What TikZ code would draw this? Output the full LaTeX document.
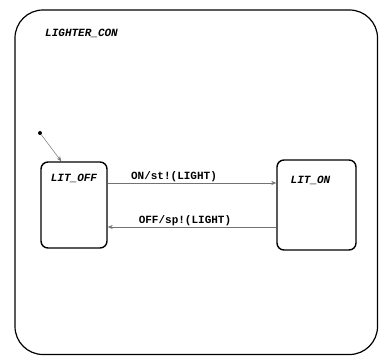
\documentclass[tikz,border=0pt]{standalone}
\usepackage{fontspec}
\setmonofont{Liberation Mono}
\usepackage{tikz}
\usetikzlibrary{positioning, arrows.meta}

\begin{document}
\begin{tikzpicture}[
  x=1pt, y=-1pt,
  stbox/.style={draw, line width=1.4pt, rounded corners=7pt},
  stname/.style={font=\ttfamily\bfseries\itshape\fontsize{11}{13}\selectfont, inner sep=0pt},
  trans/.style={draw=black!55, line width=0.5pt, -{Stealth[length=5pt, width=4pt]}},
  tlabel/.style={font=\ttfamily\bfseries\fontsize{11}{13}\selectfont, inner sep=1pt},
]
\useasboundingbox (0,0) rectangle (379,356);
% outer state
\draw[line width=1.2pt, rounded corners=28pt] (15,10) rectangle (377.5,354.5);
\node[stname, anchor=west] (con) at (45,33) {LIGHTER\_CON};
% states
\node[stbox, minimum width=66pt, minimum height=86pt] (off) at (74,205) {};
\node[stbox, minimum width=79pt, minimum height=90pt] (on) at (316.5,205) {};
\node[stname, below=13pt of off.north] (offname) {LIT\_OFF};
\node[stname, below=17pt of on.north, xshift=-6pt] (onname) {LIT\_ON};
% initial
\node[circle, fill=black, inner sep=0pt, minimum size=4pt] (init) at (40,133) {};
\coordinate (entry) at ([xshift=21pt]off.north west);
\draw[trans] (init) -- (entry);
% transitions
\draw[trans] ([yshift=22pt]off.east) -- node[tlabel, above, xshift=-18pt]{ON/st!(LIGHT)} ([yshift=22pt]off.east -| on.west);
\draw[trans] ([yshift=-22pt]off.east -| on.west) -- node[tlabel, above, xshift=-7pt]{OFF/sp!(LIGHT)} ([yshift=-22pt]off.east);
\end{tikzpicture}
\end{document}
